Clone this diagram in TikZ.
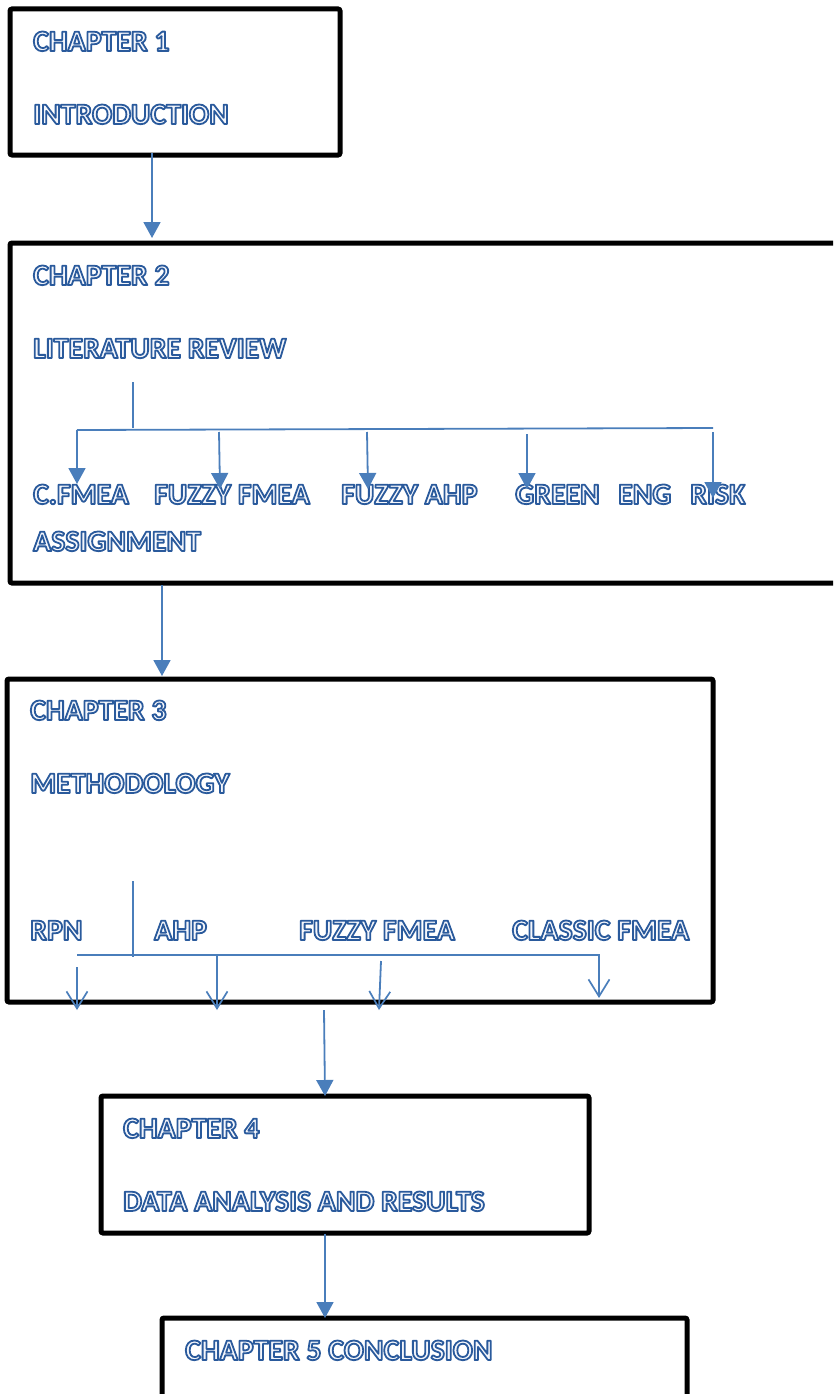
\documentclass[tikz,border=0pt]{standalone}
\usepackage{fontspec}
\setmainfont{Carlito}
\usetikzlibrary{arrows.meta}

\definecolor{conblue}{HTML}{4A7EBB}
\definecolor{olfill}{HTML}{F4F6FB}

% outlined heading text: pale fill, blue stroke round each glyph
\newcommand\otext[1]{%
  \textcolor{olfill}{%
    \special{pdf:literal direct q 2 Tr 1.8 w 1 j 0.165 0.353 0.612 RG}%
    #1%
    \special{pdf:literal direct Q}}}

\tikzset{
  chbox/.style={draw=black, line width=5pt, rounded corners=2pt, inner sep=0pt},
  lbl/.style={anchor=base west, inner sep=0pt,
    font=\bfseries\fontsize{29.8}{35}\selectfont},
  conn/.style={draw=conblue, line width=1.8pt},
  farrow/.style={conn, -{Triangle[width=17pt,length=16pt]}},
  oarrow/.style={conn, -{Straight Barb[width=21pt,length=17pt,line width=1.7pt]}},
}

\begin{document}
\begin{tikzpicture}[x=1pt,y=-1pt]
\useasboundingbox (0,0) rectangle (833,1394);
\clip (0,0) rectangle (833,1394);

% chapter frames
\node[chbox, minimum width=330pt, minimum height=146pt] (b1) at (175,82) {};
\node[chbox, minimum width=840pt, minimum height=340pt] (b2) at (430,413) {};
\node[chbox, minimum width=706pt, minimum height=323pt] (b3) at (360,840.5) {};
\node[chbox, minimum width=488pt, minimum height=137pt] (b4) at (345,1164.5) {};
\node[chbox, minimum width=525pt, minimum height=120pt] (b5) at (424.5,1378) {};

% chapter 1
\node[lbl] (t1a) at (33,51) {\otext{CHAPTER 1}};
\node[lbl] (t1b) at (33,124) {\otext{INTRODUCTION}};

% chapter 2
\node[lbl] (t2a) at (33,285) {\otext{CHAPTER 2}};
\node[lbl] (t2b) at (33,358) {\otext{LITERATURE REVIEW}};
\node[lbl] (l21) at (33,504) {\otext{C.FMEA}};
\node[lbl] (l22) at (154,504) {\otext{FUZZY FMEA}};
\node[lbl] (l23) at (341,504) {\otext{FUZZY AHP}};
\node[lbl] (l24) at (515,504) {\otext{GREEN}};
\node[lbl] (l25) at (618,504) {\otext{ENG}};
\node[lbl] (l26) at (690,504) {\otext{RISK}};
\node[lbl] (l27) at (33,551) {\otext{ASSIGNMENT}};

% chapter 3
\node[lbl] (t3a) at (30,720) {\otext{CHAPTER 3}};
\node[lbl] (t3b) at (30,793) {\otext{METHODOLOGY}};
\node[lbl] (l31) at (30,940) {\otext{RPN}};
\node[lbl] (l32) at (154,940) {\otext{AHP}};
\node[lbl] (l33) at (299,940) {\otext{FUZZY FMEA}};
\node[lbl] (l34) at (512,940) {\otext{CLASSIC FMEA}};

% chapter 4
\node[lbl] (t4a) at (123,1138) {\otext{CHAPTER 4}};
\node[lbl] (t4b) at (123,1211) {\otext{DATA ANALYSIS AND RESULTS}};

% chapter 5
\node[lbl] (t5a) at (185,1360) {\otext{CHAPTER 5 CONCLUSION}};

% links between chapters
\coordinate (k1s) at (152,153);  \coordinate (k1e) at (152,238);
\coordinate (k2s) at (162,585);  \coordinate (k2e) at (162,676);
\coordinate (k3s) at (324,1010); \coordinate (k3e) at (325,1096);
\coordinate (k4s) at (325,1234); \coordinate (k4e) at (325,1318);
\draw[farrow] (k1s) -- (k1e);
\draw[farrow] (k2s) -- (k2e);
\draw[farrow] (k3s) -- (k3e);
\draw[farrow] (k4s) -- (k4e);

% literature review branches
\coordinate (s2t) at (133,382);  \coordinate (s2b) at (133,428);
\coordinate (h2l) at (77,430);   \coordinate (h2r) at (713,428);
\draw[conn] (s2t) -- (s2b);
\draw[conn] (h2l) -- (h2r);
\coordinate (p21) at (219,432);  \coordinate (q21) at (220,489);
\coordinate (p22) at (367,432);  \coordinate (q22) at (368,489);
\coordinate (p23) at (527,434);  \coordinate (q23) at (527,489);
\coordinate (p24) at (713,432);  \coordinate (q24) at (713,498);
\coordinate (q20) at (77,484);
\draw[farrow] (h2l) -- (q20);
\draw[farrow] (p21) -- (q21);
\draw[farrow] (p22) -- (q22);
\draw[farrow] (p23) -- (q23);
\draw[farrow] (p24) -- (q24);

% methodology branches
\coordinate (s3t) at (133,881);  \coordinate (s3b) at (133,957);
\coordinate (h3l) at (77,955);   \coordinate (h3r) at (599,955);
\coordinate (q34) at (599,998);
\draw[conn] (s3t) -- (s3b);
\draw[oarrow] (h3l) -- (h3r) -- (q34);
\coordinate (p31) at (77,967);   \coordinate (q31) at (77,1010);
\coordinate (p32) at (217,955);  \coordinate (q32) at (217,1010);
\coordinate (p33) at (381,961);  \coordinate (q33) at (379,1010);
\draw[oarrow] (p31) -- (q31);
\draw[oarrow] (p32) -- (q32);
\draw[oarrow] (p33) -- (q33);
\end{tikzpicture}
\end{document}
